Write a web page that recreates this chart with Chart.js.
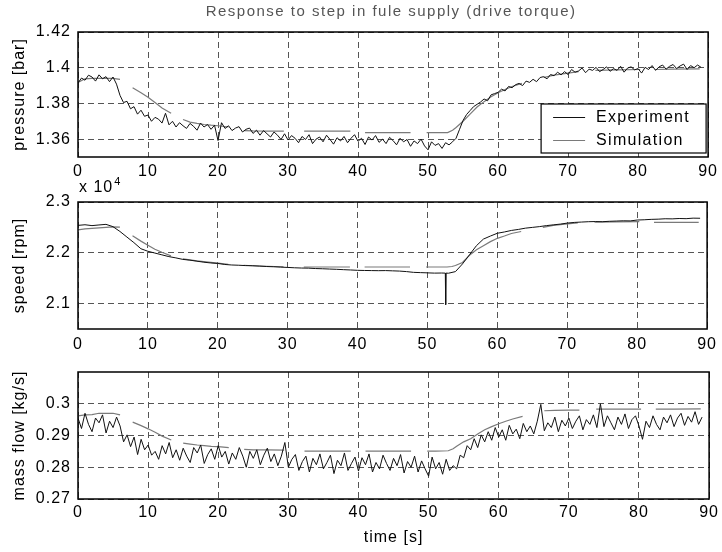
<!DOCTYPE html>
<html>
<head>
<meta charset="utf-8">
<script src="https://cdn.jsdelivr.net/npm/chart.js@4.4.1/dist/chart.umd.min.js"></script>
<style>
  body { margin: 0; background: #fff; }
  #wrap { position: relative; width: 722px; height: 552px; background: #fff; }
  canvas { position: absolute; left: 0; }
</style>
</head>
<body>
<div id="wrap">
  <canvas id="pressure" width="722" height="190" style="top:0px"></canvas>
  <canvas id="speed" width="722" height="190" style="top:165px"></canvas>
  <canvas id="massflow" width="722" height="212" style="top:340px"></canvas>
</div>
<script>
const chartTitle = "Response to step in fule supply (drive torque)"
const seriesNames = ["Experiment", "Simulation"]
const xTicks = [0, 10, 20, 30, 40, 50, 60, 70, 80, 90]
const pressureTicks = [1.36, 1.38, 1.4, 1.42]
const speedTicks = [21000, 22000, 23000]
const massFlowTicks = [0.27, 0.28, 0.29, 0.3]

// measured samples, every 0.5 s
const expTime = [
  0, 0.5, 1, 1.5, 2, 2.5, 3, 3.5, 4, 4.5,
  5, 5.5, 6, 6.5, 7, 7.5, 8, 8.5, 9, 9.5,
  10, 10.5, 11, 11.5, 12, 12.5, 13, 13.5, 14, 14.5,
  15, 15.5, 16, 16.5, 17, 17.5, 18, 18.5, 19, 19.5,
  20, 20.5, 21, 21.5, 22, 22.5, 23, 23.5, 24, 24.5,
  25, 25.5, 26, 26.5, 27, 27.5, 28, 28.5, 29, 29.5,
  30, 30.5, 31, 31.5, 32, 32.5, 33, 33.5, 34, 34.5,
  35, 35.5, 36, 36.5, 37, 37.5, 38, 38.5, 39, 39.5,
  40, 40.5, 41, 41.5, 42, 42.5, 43, 43.5, 44, 44.5,
  45, 45.5, 46, 46.5, 47, 47.5, 48, 48.5, 49, 49.5,
  50, 50.5, 51, 51.5, 52, 52.5, 53, 53.5, 54, 54.5,
  55, 55.5, 56, 56.5, 57, 57.5, 58, 58.5, 59, 59.5,
  60, 60.5, 61, 61.5, 62, 62.5, 63, 63.5, 64, 64.5,
  65, 65.5, 66, 66.5, 67, 67.5, 68, 68.5, 69, 69.5,
  70, 70.5, 71, 71.5, 72, 72.5, 73, 73.5, 74, 74.5,
  75, 75.5, 76, 76.5, 77, 77.5, 78, 78.5, 79, 79.5,
  80, 80.5, 81, 81.5, 82, 82.5, 83, 83.5, 84, 84.5,
  85, 85.5, 86, 86.5, 87, 87.5, 88, 88.5, 89
]
const expPressure = [
  1.3915, 1.3942, 1.3930, 1.3958, 1.3948, 1.3925, 1.3960, 1.3938, 1.3950, 1.3922,
  1.3948, 1.3908, 1.3845, 1.3805, 1.3812, 1.3770, 1.3782, 1.3740, 1.3762, 1.3728,
  1.3735, 1.3700, 1.3722, 1.3712, 1.3690, 1.3745, 1.3680, 1.3700, 1.3668, 1.3692,
  1.3675, 1.3660, 1.3688, 1.3672, 1.3650, 1.3690, 1.3668, 1.3682, 1.3655, 1.3678,
  1.3592, 1.3692, 1.3660, 1.3675, 1.3648, 1.3662, 1.3670, 1.3640, 1.3655, 1.3662,
  1.3632, 1.3650, 1.3622, 1.3648, 1.3630, 1.3612, 1.3640, 1.3622, 1.3598, 1.3630,
  1.3595, 1.3620, 1.3605, 1.3580, 1.3615, 1.3598, 1.3625, 1.3575, 1.3600, 1.3612,
  1.3585, 1.3622, 1.3598, 1.3572, 1.3608, 1.3590, 1.3615, 1.3580, 1.3605, 1.3625,
  1.3588, 1.3605, 1.3570, 1.3612, 1.3595, 1.3620, 1.3582, 1.3600, 1.3575, 1.3610,
  1.3592, 1.3568, 1.3605, 1.3585, 1.3598, 1.3560, 1.3590, 1.3575, 1.3600, 1.3562,
  1.3540, 1.3585, 1.3565, 1.3575, 1.3548, 1.3580, 1.3568, 1.3585, 1.3605, 1.3655,
  1.3705, 1.3738, 1.3760, 1.3782, 1.3795, 1.3808, 1.3825, 1.3815, 1.3848, 1.3855,
  1.3862, 1.3880, 1.3870, 1.3895, 1.3888, 1.3905, 1.3912, 1.3900, 1.3925, 1.3918,
  1.3935, 1.3922, 1.3945, 1.3950, 1.3938, 1.3962, 1.3955, 1.3975, 1.3960, 1.3978,
  1.3962, 1.3990, 1.3975, 1.3982, 1.3998, 1.3972, 1.3992, 1.3985, 1.4002, 1.3978,
  1.3990, 1.4005, 1.3980, 1.3995, 1.3985, 1.4008, 1.3975, 1.3998, 1.4005, 1.3988,
  1.3995, 1.3970, 1.4002, 1.3990, 1.4012, 1.3985, 1.4005, 1.4015, 1.3992, 1.4008,
  1.4018, 1.3995, 1.4010, 1.4020, 1.3990, 1.4012, 1.4000, 1.4015, 1.4002
]
const expMassFlow = [
  0.2955, 0.2922, 0.2970, 0.2935, 0.2912, 0.2955, 0.2940, 0.2965, 0.2908, 0.2945,
  0.2925, 0.2958, 0.2930, 0.2880, 0.2902, 0.2865, 0.2895, 0.2840, 0.2888, 0.2855,
  0.2870, 0.2838, 0.2850, 0.2825, 0.2868, 0.2842, 0.2878, 0.2830, 0.2855, 0.2822,
  0.2860, 0.2835, 0.2815, 0.2862, 0.2845, 0.2870, 0.2812, 0.2840, 0.2858, 0.2825,
  0.2868, 0.2832, 0.2850, 0.2810, 0.2845, 0.2825, 0.2862, 0.2835, 0.2800, 0.2850,
  0.2828, 0.2855, 0.2808, 0.2838, 0.2860, 0.2818, 0.2842, 0.2805, 0.2835, 0.2878,
  0.2800, 0.2825, 0.2840, 0.2790, 0.2818, 0.2835, 0.2785, 0.2828, 0.2808, 0.2842,
  0.2795, 0.2815, 0.2838, 0.2780, 0.2822, 0.2805, 0.2845, 0.2790, 0.2812, 0.2832,
  0.2788, 0.2830, 0.2808, 0.2842, 0.2785, 0.2815, 0.2795, 0.2838, 0.2812, 0.2790,
  0.2828, 0.2805, 0.2840, 0.2782, 0.2818, 0.2800, 0.2835, 0.2785, 0.2820, 0.2795,
  0.2772, 0.2832, 0.2795, 0.2815, 0.2778, 0.2825, 0.2790, 0.2805, 0.2795, 0.2838,
  0.2830, 0.2868, 0.2855, 0.2890, 0.2862, 0.2902, 0.2880, 0.2912, 0.2885, 0.2925,
  0.2895, 0.2918, 0.2885, 0.2932, 0.2905, 0.2920, 0.2890, 0.2938, 0.2912, 0.2930,
  0.2905, 0.2945, 0.2998, 0.2915, 0.2940, 0.2925, 0.2958, 0.2912, 0.2948, 0.2930,
  0.2955, 0.2922, 0.2945, 0.2962, 0.2918, 0.2950, 0.2935, 0.2965, 0.2925, 0.3000,
  0.2928, 0.2962, 0.2940, 0.2918, 0.2958, 0.2935, 0.2968, 0.2922, 0.2950, 0.2962,
  0.2930, 0.2888, 0.2945, 0.2925, 0.2962, 0.2935, 0.2918, 0.2958, 0.2940, 0.2965,
  0.2928, 0.2955, 0.2970, 0.2932, 0.2960, 0.2942, 0.2975, 0.2935, 0.2958
]

// speed is smooth, sampled every second plus the spike near 52.6 s
const speedTime = [
  0, 1, 2, 3, 4, 5, 6, 7, 8, 9,
  10, 11, 12, 13, 14, 15, 16, 17, 18, 19,
  20, 21, 22, 23, 24, 25, 26, 27, 28, 29,
  30, 31, 32, 33, 34, 35, 36, 37, 38, 39,
  40, 41, 42, 43, 44, 45, 46, 47, 48, 49,
  50, 51, 52, 52.55, 52.6, 52.65, 53, 54, 55, 56, 57, 58, 59,
  60, 61, 62, 63, 64, 65, 66, 67, 68, 69,
  70, 71, 72, 73, 74, 75, 76, 77, 78, 79,
  80, 81, 82, 83, 84, 85, 86, 87, 88, 89
]
const expSpeed = [
  22540, 22552, 22535, 22548, 22560, 22515, 22420, 22310, 22200, 22080,
  22030, 21995, 21960, 21925, 21900, 21870, 21855, 21835, 21815, 21800,
  21790, 21770, 21760, 21755, 21748, 21745, 21738, 21730, 21725, 21718,
  21712, 21705, 21700, 21698, 21690, 21686, 21680, 21675, 21668, 21662,
  21655, 21652, 21650, 21648, 21650, 21645, 21640, 21630, 21615, 21610,
  21605, 21600, 21602, 21600, 20980, 21600, 21598, 21630, 21780, 21960, 22140, 22270, 22330,
  22385, 22410, 22440, 22460, 22485, 22500, 22515, 22535, 22550, 22565,
  22585, 22598, 22605, 22612, 22615, 22612, 22620, 22625, 22630, 22628,
  22645, 22650, 22658, 22662, 22670, 22668, 22675, 22672, 22682, 22680
]

// simulation is plotted in pieces; null breaks the line
const simTime = [
  0, 1, 2, 3, 4, 5, 6, 7,
  7.8, 9, 10, 11, 12, 13.3, 14.2,
  15, 16, 17, 18, 19, 20, 21.5, 22.6,
  23.7, 25, 27, 29.4, 30.8,
  32.3, 35, 38.9, 40,
  41, 44, 47.5, 48.6,
  49.8, 51, 52.8, 53.5, 54, 55, 56, 57, 58, 59, 60, 61, 62, 63.4, 65,
  66.5, 68, 70, 71.5, 72.7,
  73.9, 77, 80.3, 81.4,
  82.4, 85, 88.8
]
const simPressure = [
  1.3918, 1.3938, 1.3940, 1.3940, 1.3940, 1.3940, 1.3935, null,
  1.3888, 1.3860, 1.3835, 1.3805, 1.3775, 1.3745, null,
  1.3710, 1.3695, 1.3688, 1.3682, 1.3678, 1.3675, 1.3668, null,
  1.3648, 1.3646, 1.3645, 1.3645, null,
  1.3645, 1.3645, 1.3645, null,
  1.3636, 1.3636, 1.3636, null,
  1.3636, 1.3636, 1.3637, 1.3650, 1.3665, 1.3700, 1.3740, 1.3780, 1.3810, 1.3838, 1.3860, 1.3878, 1.3895, 1.3912, null,
  1.3945, 1.3958, 1.3970, 1.3978, null,
  1.3985, 1.3988, 1.3990, null,
  1.3990, 1.3992, 1.3993
]
const simSpeed = [
  22450, 22470, 22480, 22490, 22500, 22510, 22505, null,
  22335, 22230, 22150, 22070, 22010, 21940, null,
  21880, 21860, 21840, 21825, 21810, 21795, 21775, null,
  21755, 21745, 21735, 21725, null,
  21720, 21720, 21720, null,
  21720, 21720, 21720, null,
  21720, 21720, 21720, 21730, 21750, 21810, 21950, 22060, 22140, 22220, 22285, 22330, 22380, 22420, null,
  22500, 22540, 22570, 22590, null,
  22605, 22610, 22615, null,
  22600, 22600, 22600
]
const simMassFlow = [
  0.2962, 0.2965, 0.2966, 0.2970, 0.2970, 0.2970, 0.2965, null,
  0.2942, 0.2931, 0.2921, 0.2910, 0.2898, 0.2886, null,
  0.2876, 0.2873, 0.2870, 0.2868, 0.2866, 0.2865, 0.2862, null,
  0.2856, 0.2855, 0.2855, 0.2854, null,
  0.2851, 0.2851, 0.2851, null,
  0.2851, 0.2851, 0.2851, null,
  0.2851, 0.2851, 0.2852, 0.2858, 0.2866, 0.2880, 0.2890, 0.2905, 0.2918, 0.2928, 0.2937, 0.2945, 0.2952, 0.2960, null,
  0.2978, 0.2979, 0.2980, 0.2980, null,
  0.2983, 0.2983, 0.2983, null,
  0.2983, 0.2983, 0.2984
]

const FONT = "'Liberation Sans', Arial, Helvetica, sans-serif"
Chart.defaults.font.family = FONT
Chart.defaults.font.size = 16
Chart.defaults.color = "#000"

const toPoints = (xs, ys) => xs.map((x, i) => ({ x: x, y: ys[i] }))

// matlab-ish axes box, wider text, optional extras
const framePlugin = {
  id: "frame",
  beforeDraw(chart) {
    chart.ctx.letterSpacing = "1px"
  },
  afterDraw(chart, args, opts) {
    const { ctx, chartArea: a } = chart
    ctx.save()
    ctx.setLineDash([])
    ctx.strokeStyle = "#000"
    ctx.lineWidth = 1.5
    ctx.strokeRect(a.left, a.top, a.right - a.left, a.bottom - a.top)

    if (opts.title) {
      ctx.letterSpacing = "1.5px"
      ctx.font = "15px " + FONT
      ctx.fillStyle = "#555"
      ctx.textAlign = "center"
      ctx.textBaseline = "alphabetic"
      ctx.fillText(opts.title, (a.left + a.right) / 2 - 2, 16)
    }

    if (opts.exponent) {
      ctx.letterSpacing = "1px"
      ctx.fillStyle = "#000"
      ctx.textAlign = "left"
      ctx.textBaseline = "alphabetic"
      ctx.font = "16px " + FONT
      ctx.fillText("x 10", a.left + 1, a.top - 10)
      const w = ctx.measureText("x 10").width
      ctx.font = "11px " + FONT
      ctx.fillText(opts.exponent, a.left + 1 + w + 1, a.top - 17)
    }

    if (opts.legend) {
      const bw = 165, bh = 49
      const bx = a.right - 2 - bw, by = a.bottom - 4 - bh
      ctx.fillStyle = "#fff"
      ctx.fillRect(bx, by, bw, bh)
      ctx.strokeStyle = "#000"
      ctx.lineWidth = 1.2
      ctx.strokeRect(bx, by, bw, bh)
      ctx.font = "16px " + FONT
      ctx.letterSpacing = "1.3px"
      ctx.textAlign = "left"
      ctx.textBaseline = "middle"
      chart.data.datasets.forEach((ds, i) => {
        const y = by + 13.5 + i * 23
        ctx.strokeStyle = ds.borderColor
        ctx.lineWidth = 1
        ctx.beginPath()
        ctx.moveTo(bx + 12, y)
        ctx.lineTo(bx + 44, y)
        ctx.stroke()
        ctx.fillStyle = "#000"
        ctx.fillText(ds.label, bx + 55, y + 0.5)
      })
    }
    ctx.restore()
  }
}

function makePanel(id, p) {
  const gridLines = { color: "#555", lineWidth: 1, drawTicks: false }
  const dashed = { display: false, dash: [6, 4] }

  return new Chart(document.getElementById(id), {
    type: "line",
    data: {
      datasets: [
        {
          label: seriesNames[0],
          data: toPoints(p.expX, p.expY),
          borderColor: "#111",
          borderWidth: 1,
          pointRadius: 0,
          tension: 0
        },
        {
          label: seriesNames[1],
          data: toPoints(simTime, p.simY),
          borderColor: "#7a7a7a",
          borderWidth: 1.2,
          pointRadius: 0,
          tension: 0,
          spanGaps: false
        }
      ]
    },
    options: {
      responsive: false,
      animation: false,
      events: [],
      layout: { padding: { top: p.padTop, right: 12, left: 0, bottom: 0 } },
      plugins: {
        legend: { display: false },
        tooltip: { enabled: false },
        frame: p.frame || {}
      },
      scales: {
        x: {
          type: "linear",
          min: 0,
          max: 90,
          afterBuildTicks: s => { s.ticks = xTicks.map(v => ({ value: v })) },
          afterFit: s => { s.height = p.xHeight },
          grid: gridLines,
          border: dashed,
          ticks: { padding: p.xPad, maxRotation: 0, autoSkip: false, callback: v => String(v) },
          title: p.xTitle
            ? { display: true, text: p.xTitle, font: { size: 16 }, padding: { top: 0, bottom: 5 } }
            : { display: false }
        },
        y: {
          type: "linear",
          min: p.min,
          max: p.max,
          afterBuildTicks: s => { s.ticks = p.ticks.map(v => ({ value: v })) },
          afterFit: s => { s.width = 78 },
          grid: gridLines,
          border: dashed,
          ticks: { padding: 7, autoSkip: false, callback: p.format || (v => String(v)) },
          title: { display: true, text: p.yTitle, font: { size: 16 }, padding: { top: 10, bottom: 0 } }
        }
      }
    },
    plugins: [framePlugin]
  })
}

makePanel("pressure", {
  expX: expTime, expY: expPressure, simY: simPressure,
  min: 1.35, max: 1.42, ticks: pressureTicks, yTitle: "pressure [bar]",
  padTop: 32, xHeight: 33, xPad: 5,
  frame: { title: chartTitle, legend: true }
})

makePanel("speed", {
  expX: speedTime, expY: expSpeed, simY: simSpeed,
  min: 20500, max: 23000, ticks: speedTicks, yTitle: "speed [rpm]",
  format: v => String(v / 10000),
  padTop: 37, xHeight: 26, xPad: 6,
  frame: { exponent: "4" }
})

makePanel("massflow", {
  expX: expTime, expY: expMassFlow, simY: simMassFlow,
  min: 0.27, max: 0.31, ticks: massFlowTicks, yTitle: "mass flow [kg/s]",
  padTop: 32, xHeight: 53, xPad: 4, xTitle: "time [s]"
})
</script>
</body>
</html>
